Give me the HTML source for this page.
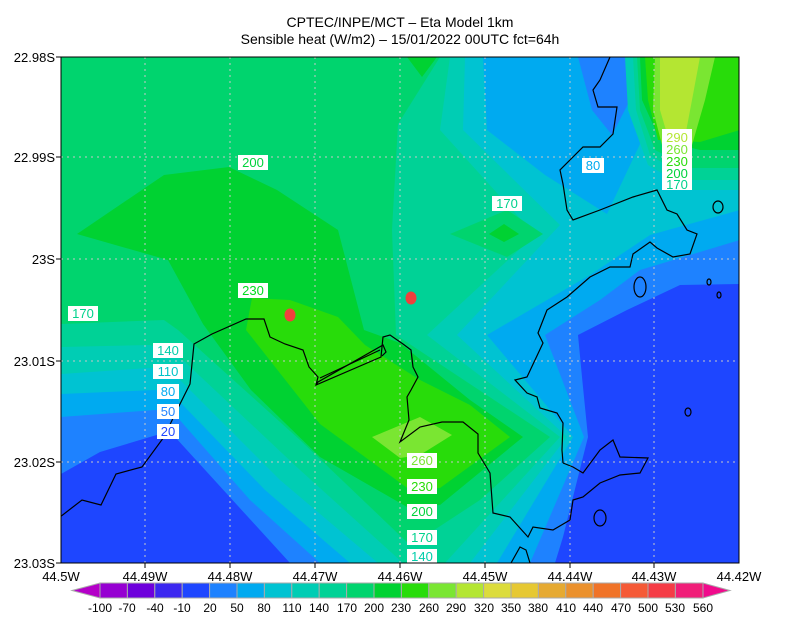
<!DOCTYPE html>
<html><head><meta charset="utf-8"><style>
html,body{margin:0;padding:0;background:#fff;}
svg{display:block;font-family:"Liberation Sans",sans-serif;}
</style></head><body>
<svg width="800" height="618" viewBox="0 0 800 618" xmlns="http://www.w3.org/2000/svg">
<rect width="800" height="618" fill="#fff"/>
<text x="400" y="27" font-size="14" text-anchor="middle">CPTEC/INPE/MCT –  Eta Model 1km</text>
<text x="400" y="44" font-size="14" text-anchor="middle">Sensible heat (W/m2) – 15/01/2022 00UTC fct=64h</text>
<clipPath id="c"><rect x="61" y="57" width="678" height="506"/></clipPath>
<g clip-path="url(#c)">
<rect x="61" y="57" width="678" height="506" fill="#00d46e"/>
<polygon fill="#00d296" points="61,324 164,320 178,330 300,440 410,545 422,538 480,500 550,437 396,335 392,230 398,124 440,57 740,57 740,563 61,563"/>
<polygon fill="#00cdb4" points="450,57 440,130 535,235 427,335 560,437 445,563 740,563 740,57"/>
<polygon fill="#00cdb4" points="61,347 150,345 168,351 185,362 300,470 403,563 61,563"/>
<polygon fill="#00c3d2" points="465,57 463,130 560,225 457,335 567,437 470,563 740,563 740,57"/>
<polygon fill="#00c3d2" points="61,374 150,368 168,371 180,380 280,480 378,563 61,563"/>
<polygon fill="#00aaf0" points="483,57 487,130 545,175 607,214 640,144 633,57"/>
<polygon fill="#00aaf0" points="740,210 650,235 590,275 487,335 573,437 497,563 740,563"/>
<polygon fill="#00aaf0" points="61,394 155,390 168,392 178,400 265,490 350,563 61,563"/>
<polygon fill="#1e82ff" points="578,57 632,57 630,100 612,135 592,110"/>
<polygon fill="#1e82ff" points="740,240 640,270 600,300 545,335 584,437 530,563 740,563"/>
<polygon fill="#1e82ff" points="61,417 155,410 168,411 178,418 250,500 320,563 61,563"/>
<polygon fill="#1e46ff" points="740,284 680,285 627,310 578,335 582,377 588,437 563,537 555,563 740,563"/>
<polygon fill="#1e46ff" points="61,474 100,452 160,434 175,437 290,563 61,563"/>
<polygon fill="#00cdb4" points="625,57 628,110 648,165 690,190 740,190 740,57"/>
<polygon fill="#00d296" points="633,57 636,110 650,155 690,180 740,180 740,57"/>
<polygon fill="#00d46e" points="637,57 640,110 655,150 690,168 740,168 740,57"/>
<polygon fill="#00d232" points="640,57 642,100 660,140 700,150 740,150 740,57"/>
<polygon fill="#28dc0a" points="645,57 648,100 658,140 700,142 740,130 740,57"/>
<polygon fill="#7ae632" points="655,57 653,110 662,145 692,145 705,100 715,57"/>
<polygon fill="#b4e632" points="660,57 660,110 668,137 685,137 692,100 700,57"/>
<polygon fill="#00d46e" points="450,234 507,210 543,234 507,257"/>
<polygon fill="#00d232" points="489,234 504,224 519,234 504,242"/>
<polygon fill="#00d232" points="407,57 437,57 422,77"/>
<polygon fill="#00d232" points="77,234 164,175 229,167 277,190 338,230 364,330 400,343 470,400 523,437 440,505 407,507 320,457 251,390 203,324 168,260"/>
<polygon fill="#28dc0a" points="252,298 290,300 338,317 365,345 420,380 470,405 510,437 440,488 410,490 320,424 246,330"/>
<polygon fill="#7ae632" points="372,437 420,417 452,435 420,455 400,458"/>
</g>
<g stroke="#c8c8c8" stroke-width="1" stroke-dasharray="2,4">
<line x1="145" y1="57" x2="145" y2="563"/><line x1="230" y1="57" x2="230" y2="563"/><line x1="315" y1="57" x2="315" y2="563"/><line x1="400" y1="57" x2="400" y2="563"/><line x1="485" y1="57" x2="485" y2="563"/><line x1="570" y1="57" x2="570" y2="563"/><line x1="654" y1="57" x2="654" y2="563"/>
<line x1="61" y1="157" x2="739" y2="157"/><line x1="61" y1="259" x2="739" y2="259"/><line x1="61" y1="361" x2="739" y2="361"/><line x1="61" y1="462" x2="739" y2="462"/>
</g>
<g fill="none" stroke="#000" stroke-width="1.2" clip-path="url(#c)">
<polyline points="60,517 82,500 101,505 116,474 142,467 164,437 177,410 190,384 194,344 212,334 246,319 264,319 270,337 285,344 303,350 309,367 318,377 316,385 381,357 383,337 390,335 403,344 411,350 413,367 418,377 411,390 407,397 409,420 400,442 420,427 442,422 463,422 478,434 478,453 490,473 493,513 510,517 528,537 533,527 553,530 570,520 573,500 583,497 600,483 620,475 640,473 648,458 620,457 613,440 600,450 583,473 573,467 563,463"/>
<polyline points="316,385 318,382 383,345 386,352 382,356"/>
<polyline points="320,378 380,350"/>
<polyline points="563,463 562,450 563,423 557,413 540,408 537,397 527,393 515,380 527,377 543,343 538,333 547,310 567,297 590,277 610,267 630,267 633,254 650,242 657,248 673,257 690,254 697,234 687,230 677,214 667,210 657,190 633,197 600,210 573,220 567,210 563,184 560,170 583,147 600,147 613,134 617,107 598,107 593,90 600,80 610,57"/>
<polyline points="511,563 520,547 526,550 530,563"/>
<ellipse cx="718" cy="207" rx="5" ry="6"/>
<ellipse cx="640" cy="287" rx="6" ry="10"/>
<ellipse cx="600" cy="518" rx="6" ry="8"/>
<ellipse cx="688" cy="412" rx="3" ry="4"/>
<ellipse cx="709" cy="282" rx="2" ry="3"/>
<ellipse cx="719" cy="295" rx="2" ry="3"/>
</g>
<ellipse cx="290" cy="315" rx="5.5" ry="6.5" fill="#f0403c"/>
<ellipse cx="411" cy="298" rx="5.5" ry="6.5" fill="#f0403c"/>
<g font-size="13" text-anchor="middle">
<rect x="238" y="155" width="30" height="15" fill="#fff"/><text x="253" y="167" fill="#00d23c">200</text>
<rect x="238" y="283" width="30" height="15" fill="#fff"/><text x="253" y="295" fill="#00dc1e">230</text>
<rect x="68" y="306" width="30" height="15" fill="#fff"/><text x="83" y="318" fill="#00d28c">170</text>
<rect x="153" y="343" width="30" height="15" fill="#fff"/><text x="168" y="355" fill="#00cdaa">140</text>
<rect x="153" y="364" width="30" height="15" fill="#fff"/><text x="168" y="376" fill="#00c3c8">110</text>
<rect x="157" y="384" width="22" height="15" fill="#fff"/><text x="168" y="396" fill="#00aaf0">80</text>
<rect x="157" y="404" width="22" height="15" fill="#fff"/><text x="168" y="416" fill="#1e82ff">50</text>
<rect x="157" y="424" width="22" height="15" fill="#fff"/><text x="168" y="436" fill="#1e46ff">20</text>
<rect x="582" y="158" width="22" height="15" fill="#fff"/><text x="593" y="170" fill="#00aaf0">80</text>
<rect x="492" y="196" width="30" height="15" fill="#fff"/><text x="507" y="208" fill="#00d28c">170</text>
<rect x="662" y="129" width="30" height="61" fill="#fff"/>
<text x="677" y="142" fill="#b4e632">290</text><text x="677" y="154" fill="#7ae632">260</text><text x="677" y="166" fill="#28dc0a">230</text><text x="677" y="178" fill="#00d23c">200</text><text x="677" y="189" fill="#00d28c">170</text>
<rect x="407" y="453" width="30" height="15" fill="#fff"/><text x="422" y="465" fill="#7ae632">260</text>
<rect x="407" y="479" width="30" height="15" fill="#fff"/><text x="422" y="491" fill="#28dc0a">230</text>
<rect x="407" y="504" width="30" height="15" fill="#fff"/><text x="422" y="516" fill="#00d23c">200</text>
<rect x="407" y="530" width="30" height="15" fill="#fff"/><text x="422" y="542" fill="#00d28c">170</text>
<rect x="407" y="549" width="30" height="14" fill="#fff"/><text x="422" y="561" fill="#00cdaa">140</text>
</g>
<rect x="61" y="57" width="678" height="506" fill="none" stroke="#000" stroke-width="1"/>
<g stroke="#000">
<line x1="56" y1="57" x2="61" y2="57"/><line x1="56" y1="157" x2="61" y2="157"/><line x1="56" y1="259" x2="61" y2="259"/><line x1="56" y1="361" x2="61" y2="361"/><line x1="56" y1="462" x2="61" y2="462"/><line x1="56" y1="563" x2="61" y2="563"/>
<line x1="145" y1="563" x2="145" y2="568"/><line x1="230" y1="563" x2="230" y2="568"/><line x1="315" y1="563" x2="315" y2="568"/><line x1="400" y1="563" x2="400" y2="568"/><line x1="485" y1="563" x2="485" y2="568"/><line x1="570" y1="563" x2="570" y2="568"/><line x1="654" y1="563" x2="654" y2="568"/>
</g>
<g font-size="13" text-anchor="end">
<text x="55" y="62">22.98S</text><text x="55" y="162">22.99S</text><text x="55" y="264">23S</text><text x="55" y="366">23.01S</text><text x="55" y="467">23.02S</text><text x="55" y="568">23.03S</text>
</g>
<g font-size="13" text-anchor="middle">
<text x="61" y="581">44.5W</text><text x="145" y="581">44.49W</text><text x="230" y="581">44.48W</text><text x="315" y="581">44.47W</text><text x="400" y="581">44.46W</text><text x="485" y="581">44.45W</text><text x="570" y="581">44.44W</text><text x="654" y="581">44.43W</text><text x="739" y="581">44.42W</text>
</g>
<polygon points="72,590.5 100,583 100,598" fill="#b400c8" stroke="#aaa" stroke-width="1"/>
<polygon points="730,590.5 703,583 703,598" fill="#f00a8c" stroke="#aaa" stroke-width="1"/>
<g stroke="#aaa" stroke-width="1">
<rect x="100" y="583" width="27.4" height="15" fill="#9600d2"/>
<rect x="127.4" y="583" width="27.4" height="15" fill="#6e00dc"/>
<rect x="154.8" y="583" width="27.4" height="15" fill="#3c28f0"/>
<rect x="182.2" y="583" width="27.4" height="15" fill="#1e46ff"/>
<rect x="209.6" y="583" width="27.4" height="15" fill="#1e82ff"/>
<rect x="237" y="583" width="27.4" height="15" fill="#00aaf0"/>
<rect x="264.4" y="583" width="27.4" height="15" fill="#00c3d2"/>
<rect x="291.8" y="583" width="27.4" height="15" fill="#00cdb4"/>
<rect x="319.2" y="583" width="27.4" height="15" fill="#00d296"/>
<rect x="346.6" y="583" width="27.4" height="15" fill="#00d46e"/>
<rect x="374" y="583" width="27.4" height="15" fill="#00d232"/>
<rect x="401.4" y="583" width="27.4" height="15" fill="#28dc0a"/>
<rect x="428.8" y="583" width="27.4" height="15" fill="#7ae632"/>
<rect x="456.2" y="583" width="27.4" height="15" fill="#b4e632"/>
<rect x="483.6" y="583" width="27.4" height="15" fill="#dcdc3c"/>
<rect x="511" y="583" width="27.4" height="15" fill="#e6c832"/>
<rect x="538.4" y="583" width="27.4" height="15" fill="#e6aa32"/>
<rect x="565.8" y="583" width="27.4" height="15" fill="#eb912d"/>
<rect x="593.2" y="583" width="27.4" height="15" fill="#f07328"/>
<rect x="620.6" y="583" width="27.4" height="15" fill="#f55a37"/>
<rect x="648" y="583" width="27.4" height="15" fill="#f53c46"/>
<rect x="675.4" y="583" width="27.6" height="15" fill="#f01e78"/>
</g>
<g font-size="12" text-anchor="middle">
<text x="100" y="612">-100</text><text x="127" y="612">-70</text><text x="155" y="612">-40</text><text x="182" y="612">-10</text><text x="210" y="612">20</text><text x="237" y="612">50</text><text x="264" y="612">80</text><text x="292" y="612">110</text><text x="319" y="612">140</text><text x="347" y="612">170</text><text x="374" y="612">200</text><text x="401" y="612">230</text><text x="429" y="612">260</text><text x="456" y="612">290</text><text x="484" y="612">320</text><text x="511" y="612">350</text><text x="538" y="612">380</text><text x="566" y="612">410</text><text x="593" y="612">440</text><text x="621" y="612">470</text><text x="648" y="612">500</text><text x="675" y="612">530</text><text x="703" y="612">560</text>
</g>
</svg>
</body></html>
